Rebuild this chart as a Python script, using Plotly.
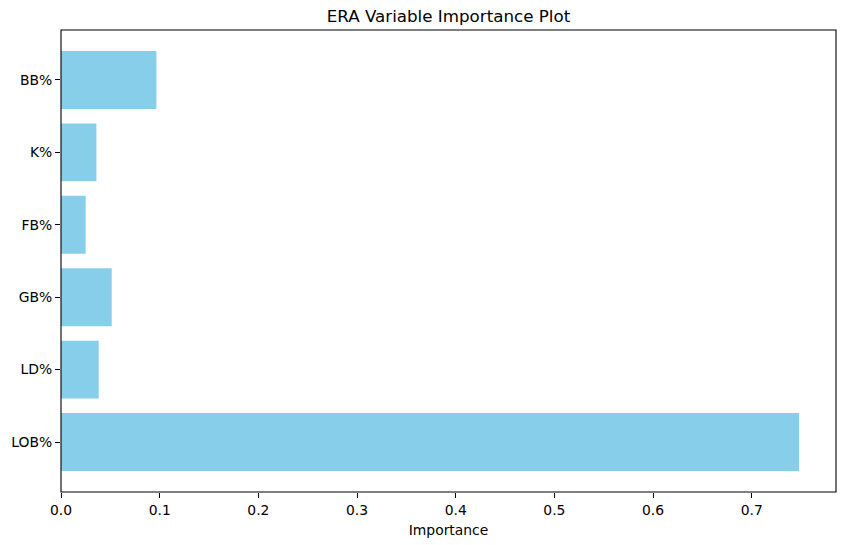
import plotly.graph_objects as go

# feature importances (bottom to top)
features = ['LOB%', 'LD%', 'GB%', 'FB%', 'K%', 'BB%']
importance = [0.748, 0.0382, 0.0514, 0.0250, 0.0359, 0.0967]

font = dict(family='DejaVu Sans', size=13.9, color='black')

fig = go.Figure(go.Bar(x=importance, y=features, orientation='h',
                       marker_color='#87CEEB', marker_line_width=0, width=0.8))

fig.update_layout(
    width=845, height=545,
    margin={"l": 61, "r": 9, "t": 30, "b": 53, "autoexpand": False},
    paper_bgcolor='white', plot_bgcolor='white',
    font=font,
    showlegend=False,
    title=dict(text='ERA Variable Importance Plot', x=0.5, xanchor='center', xref='paper',
               y=1 - 16 / 545, yanchor='middle', yref='container',
               font=dict(family='DejaVu Sans', size=16.7, color='black')),
)
# axes frame (all four spines)
fig.add_shape(type='rect', xref='paper', yref='paper', x0=0, x1=1, y0=0, y1=1,
              line=dict(color='black', width=1.1), layer='above')
fig.update_xaxes(range=[0, max(importance) * 1.05], dtick=0.1, tickformat='.1f',
                 showgrid=False, zeroline=False, automargin=False, showline=False,
                 ticks='outside', ticklen=5, tickwidth=1.1, tickcolor='black',
                 title=dict(text='Importance', standoff=8, font=font))
fig.update_yaxes(type='category', categoryorder='array', categoryarray=features,
                 range=[-0.69, len(features) - 0.31], automargin=False,
                 showgrid=False, zeroline=False, showline=False,
                 ticks='outside', ticklen=5, tickwidth=1.1, tickcolor='black')

# drop the page's default body margin so the figure sits at the window origin
fig.write_html("out.html", config={'displayModeBar': False},
               post_script="document.body.style.margin='0';")
